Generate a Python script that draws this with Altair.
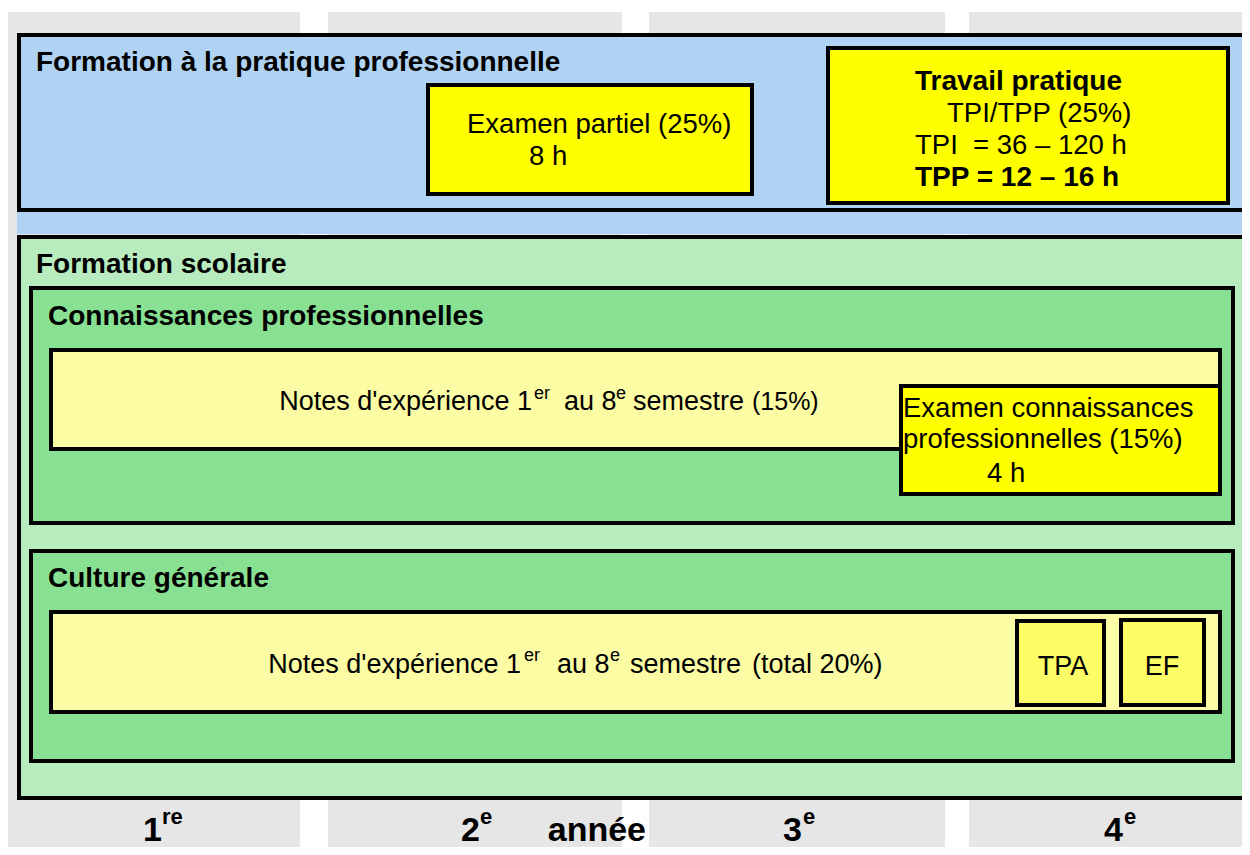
import altair as alt
import pandas as pd

# ---- year columns (background bands) ----
year_names = ["1re", "2e", "3e", "4e"]
year_x0 = [6, 328, 649, 969]
year_x1 = [300, 622, 945, 1250]
year_y0 = [12, 12, 12, 12]
year_y1 = [855, 855, 855, 855]

# ---- boxes (drawn in order) ----
box_names = ["band_blue", "pratique", "ex_partiel", "travail", "scolaire",
             "connaissances", "notes_cp", "exam_cp", "culture", "notes_cg", "tpa", "ef"]
box_x0 = [17, 19, 428, 828, 19, 31, 51, 901, 31, 51, 1017, 1121]
box_x1 = [1245, 1245, 752, 1228, 1245, 1233, 1220, 1220, 1233, 1220, 1104, 1204]
box_y0 = [35, 35, 85, 48, 237, 288, 350, 386, 551, 612, 621, 620]
box_y1 = [234, 210, 194, 203, 798, 523, 449, 494, 761, 712, 705, 705]
box_kind = ["band", "blue", "yellow", "yellow", "green_light", "green", "pale",
            "yellow", "green", "pale", "soft", "soft"]

# ---- text pieces ----
txt = ["Formation à la pratique professionnelle", "Formation scolaire",
       "Connaissances professionnelles", "Culture générale",
       "Travail pratique", "TPP = 12 – 16 h",
       "Examen partiel (25%)", "8 h", "TPI/TPP (25%)", "TPI\u00a0 = 36 – 120 h",
       "Examen connaissances", "professionnelles (15%)", "4 h",
       "TPA", "EF",
       "Notes d'expérience 1", "er", "au 8", "e", "semestre", "(15%)",
       "Notes d'expérience 1", "er", "au 8", "e", "semestre", "(total 20%)",
       "1", "re", "2", "e", "année", "3", "e", "4", "e"]
txt_x = [36, 36, 48, 48, 915, 915,
         467, 529, 947, 915,
         903, 903, 987,
         1063, 1162,
         532, 534, 564, 616, 633, 752,
         521, 524, 557, 610, 630, 752,
         143, 162, 461, 480, 646, 783, 803, 1104, 1124]
txt_y = [71, 273, 325, 587, 90, 186,
         133, 165, 122, 154,
         417, 448, 482,
         675, 675,
         410, 399, 410, 399, 410, 410,
         673, 661, 673, 661, 673, 673,
         841, 824, 841, 824, 841, 841, 824, 841, 824]
txt_size = [28, 28, 28, 28, 28, 28,
            27.5, 27.5, 27.5, 27.5,
            27.5, 27.5, 27.5,
            27, 27,
            27, 18, 27, 18, 27, 25,
            27, 18, 27, 18, 27, 27,
            34, 22, 34, 22, 34, 34, 22, 34, 22]
txt_weight = ["bold"] * 6 + ["normal"] * 9 + ["normal"] * 12 + ["bold"] * 9
txt_align = ["left"] * 13 + ["center", "center"] + \
            ["right", "left", "left", "left", "left", "left"] * 2 + \
            ["left", "left", "left", "left", "right", "left", "left", "left", "left"]

fill_map = {"band": "#b0d3f3", "blue": "#b0d3f3", "yellow": "#ffff00",
            "green_light": "#b8ecbf", "green": "#88e092", "pale": "#fcfca4",
            "soft": "#fcfc66"}

years = pd.DataFrame({"name": year_names, "x0": year_x0, "x1": year_x1,
                      "y0": year_y0, "y1": year_y1})
boxes = pd.DataFrame({"name": box_names, "x0": box_x0, "x1": box_x1,
                      "y0": box_y0, "y1": box_y1, "kind": box_kind})
boxes["fill"] = boxes["kind"].map(fill_map)
boxes["order"] = range(len(boxes))
texts = pd.DataFrame({"t": txt, "x": txt_x, "y": txt_y, "s": txt_size,
                      "w": txt_weight, "a": txt_align})

W, H = 1234, 839
xs = alt.Scale(domain=[8, 8 + W], nice=False, zero=False)
ys = alt.Scale(domain=[8, 8 + H], nice=False, zero=False, reverse=True)
X = lambda f: alt.X(f, type="quantitative", scale=xs, axis=None)
Y = lambda f: alt.Y(f, type="quantitative", scale=ys, axis=None)

year_layer = alt.Chart(years).mark_rect(color="#e6e6e6", clip=True).encode(
    x=X("x0"), x2="x1", y=Y("y0"), y2="y1")

band = alt.Chart(boxes[boxes.kind == "band"]).mark_rect(clip=True).encode(
    x=X("x0"), x2="x1", y=Y("y0"), y2="y1",
    fill=alt.Fill("fill:N", scale=None))

framed = alt.Chart(boxes[boxes.kind != "band"]).mark_rect(
    stroke="black", strokeWidth=4, clip=True).encode(
    x=X("x0"), x2="x1", y=Y("y0"), y2="y1",
    fill=alt.Fill("fill:N", scale=None),
    order=alt.Order("order:Q"))

layers = [year_layer, band, framed]
for w in ["bold", "normal"]:
    for a in ["left", "right", "center"]:
        sub = texts[(texts.w == w) & (texts.a == a)]
        if len(sub) == 0:
            continue
        layers.append(
            alt.Chart(sub).mark_text(font="Liberation Sans", fontWeight=w,
                                     align=a, baseline="alphabetic",
                                     color="black").encode(
                x=X("x"), y=Y("y"), text="t:N",
                size=alt.Size("s:Q", scale=None)))

chart = alt.layer(*layers).properties(
    width=W, height=H, padding=0, autosize=alt.AutoSizeParams(type="none")
).configure_view(strokeWidth=0)

chart.save("out.html", embed_options={"renderer": "svg", "actions": False})
